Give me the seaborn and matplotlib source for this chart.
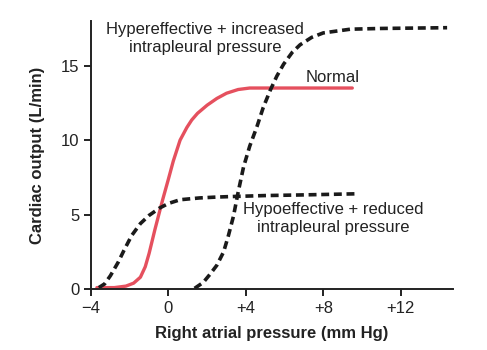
import matplotlib
matplotlib.use("Agg")
import matplotlib.pyplot as plt
import seaborn as sns
import pandas as pd

# curves (x = right atrial pressure, y = cardiac output)
normal_x = [-3.7, -2.8, -2.2, -1.8, -1.45, -1.2, -1.0, -0.7, -0.3, 0.0, 0.25, 0.6, 0.95, 1.2, 1.5, 2.0, 2.5, 3.0, 3.6, 4.2, 6.0, 9.5]
normal_y = [0.1, 0.1, 0.2, 0.4, 0.8, 1.5, 2.4, 4.0, 6.0, 7.4, 8.6, 10.0, 10.85, 11.35, 11.8, 12.35, 12.8, 13.15, 13.4, 13.5, 13.5, 13.5]

hypo_x = [-3.6, -3.3, -3.0, -2.6, -2.3, -1.9, -1.45, -1.0, -0.45, 0.0, 0.6, 1.6, 2.5, 3.4, 5.0, 6.8, 9.8]
hypo_y = [0.1, 0.35, 0.9, 1.8, 2.6, 3.6, 4.4, 4.95, 5.45, 5.75, 6.0, 6.12, 6.18, 6.22, 6.28, 6.32, 6.4]

hyper_x = [1.35, 1.8, 2.15, 2.5, 2.85, 3.1, 3.36, 3.6, 3.88, 4.2, 4.57, 4.9, 5.26, 5.6, 5.95, 6.4, 6.8, 7.4, 8.0, 9.4, 11.0, 14.4]
hyper_y = [0.05, 0.45, 1.0, 1.6, 2.5, 3.6, 4.9, 6.5, 8.2, 9.6, 10.9, 12.2, 13.35, 14.3, 15.1, 15.9, 16.4, 16.9, 17.2, 17.45, 17.5, 17.55]

x_ticks = [-4, 0, 4, 8, 12]
x_tick_labels = ["\u22124", "0", "+4", "+8", "+12"]
y_ticks = [0, 5, 10, 15]

sns.set_style("ticks")
plt.rcParams["font.family"] = ["Liberation Sans", "DejaVu Sans"]

fig = plt.figure(figsize=(4.87, 3.5), dpi=100)
ax = fig.add_axes([0.187, 0.174, 0.743, 0.766])

red = "#E5505E"
dash = (0, (2.2, 1.3))
ink = "#222222"

sns.lineplot(data=pd.DataFrame({"x": normal_x, "y": normal_y}), x="x", y="y",
             sort=False, color=red, lw=2.4, ax=ax)
sns.lineplot(data=pd.DataFrame({"x": hypo_x, "y": hypo_y}), x="x", y="y",
             sort=False, color="#1a1a1a", lw=2.6, linestyle=dash, ax=ax)
sns.lineplot(data=pd.DataFrame({"x": hyper_x, "y": hyper_y}), x="x", y="y",
             sort=False, color="#1a1a1a", lw=2.6, linestyle=dash, ax=ax)

ax.text(1.9, 16.8, "Hypereffective + increased\nintrapleural pressure",
        ha="center", va="center", fontsize=12, color=ink, linespacing=1.25)
ax.text(8.5, 14.2, "Normal", ha="center", va="center", fontsize=12, color=ink)
ax.text(8.5, 4.75, "Hypoeffective + reduced\nintrapleural pressure",
        ha="center", va="center", fontsize=12, color=ink, linespacing=1.25)

ax.set_xlim(-4, 14.7)
ax.set_ylim(0, 18)
ax.set_xticks(x_ticks)
ax.set_xticklabels(x_tick_labels)
ax.set_yticks(y_ticks)
ax.tick_params(labelsize=12, length=5, width=1.4, colors=ink)
for s in ["left", "bottom"]:
    ax.spines[s].set_linewidth(1.4)
    ax.spines[s].set_color(ink)
sns.despine(ax=ax)

ax.set_xlabel("Right atrial pressure (mm Hg)", fontsize=12, fontweight="bold", color=ink, labelpad=7)
ax.set_ylabel("Cardiac output (L/min)", fontsize=12, fontweight="bold", color=ink, labelpad=11)

fig.savefig("out.png", dpi=100)
